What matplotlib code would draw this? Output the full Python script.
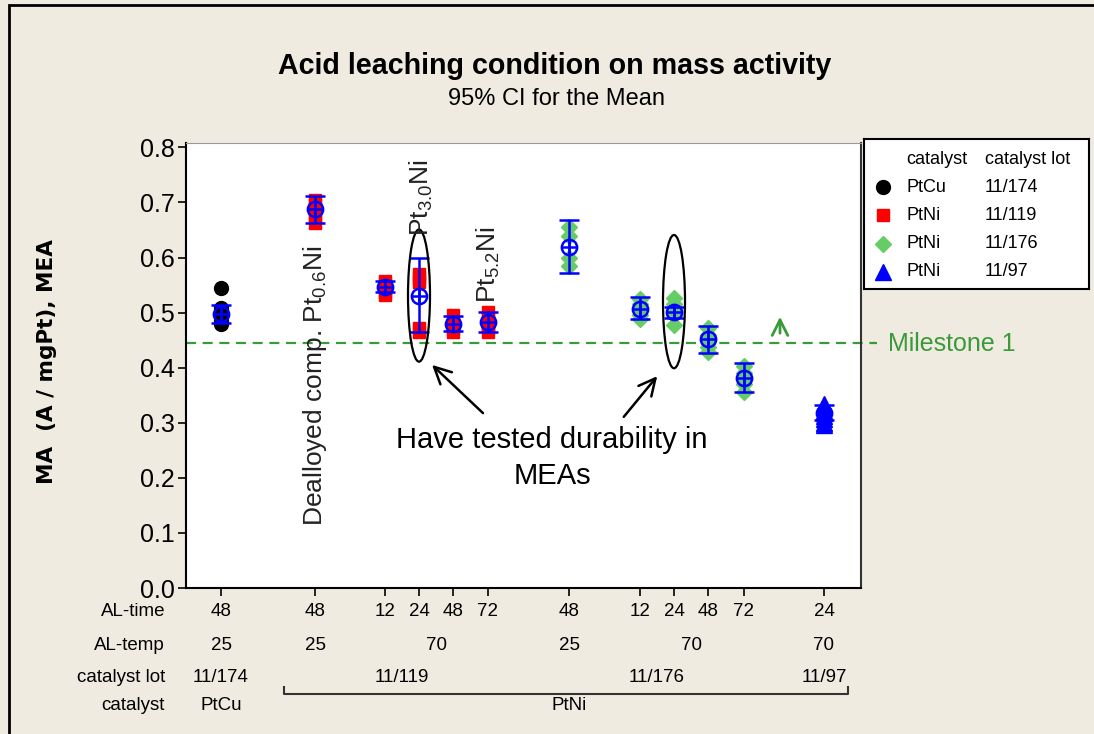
import matplotlib
matplotlib.use('Agg')
import matplotlib.pyplot as plt
from matplotlib.patches import Ellipse, Rectangle
from matplotlib.lines import Line2D

# Daten
al_time = ['48', '48', '12', '24', '48', '72', '48', '12', '24', '48', '72', '24']
group_lot = [0, 1, 1, 1, 1, 1, 2, 2, 2, 2, 2, 3]

temp_labels = ['25', '25', '70', '25', '70', '70']
temp_spans = [(0, 0), (1, 1), (2, 5), (6, 6), (7, 10), (11, 11)]
lot_labels = ['11/174', '11/119', '11/176', '11/97']
lot_spans = [(0, 0), (1, 5), (6, 10), (11, 11)]
cat_labels = ['PtCu', 'PtNi']
cat_spans = [(0, 0), (1, 11)]
legend_catalyst = ['PtCu', 'PtNi', 'PtNi', 'PtNi']

ma_points = [
    [0.545, 0.508, 0.500, 0.492, 0.485, 0.480],
    [0.705, 0.695, 0.685, 0.675, 0.662],
    [0.558, 0.552, 0.545, 0.538, 0.532],
    [0.570, 0.562, 0.555, 0.472, 0.465],
    [0.495, 0.485, 0.478, 0.470, 0.465],
    [0.502, 0.490, 0.480, 0.472, 0.465],
    [0.655, 0.640, 0.600, 0.585],
    [0.525, 0.515, 0.505, 0.495, 0.488],
    [0.527, 0.515, 0.505, 0.495, 0.478],
    [0.472, 0.460, 0.450, 0.438, 0.428],
    [0.403, 0.390, 0.380, 0.370, 0.356],
    [0.335, 0.328, 0.322, 0.318, 0.312, 0.306, 0.300, 0.296],
]
ma_mean = [0.498, 0.688, 0.547, 0.531, 0.480, 0.483, 0.620, 0.507, 0.501, 0.452, 0.382, 0.318]
ci_lo = [0.482, 0.662, 0.537, 0.464, 0.466, 0.464, 0.572, 0.489, 0.490, 0.427, 0.355, 0.305]
ci_hi = [0.513, 0.711, 0.558, 0.599, 0.494, 0.501, 0.669, 0.528, 0.511, 0.475, 0.409, 0.332]
milestone = 0.445

# Layout
W, H = 1094, 734
xpos = [221, 315, 385, 419, 453, 488, 569, 640, 674, 708, 744, 824]
lot_style = [
    dict(marker='o', color='black', ms=10),
    dict(marker='s', color='#ff0000', ms=9),
    dict(marker='D', color='#66cc66', ms=8),
    dict(marker='^', color='#0000ff', ms=12),
]
bg = '#efebe1'
green = '#3a9a3a'
sans = 'Liberation Sans'

plt.rcParams['font.family'] = [sans, 'DejaVu Sans']
plt.rcParams['mathtext.fontset'] = 'custom'
plt.rcParams['mathtext.rm'] = sans
plt.rcParams['mathtext.it'] = sans


def fx(x):
    return x / W


def fy(y):
    return 1 - y / H


fig = plt.figure(figsize=(W / 100, H / 100), dpi=100)
fig.patch.set_facecolor(bg)

# Rahmen
fig.patches.append(Rectangle((fx(9), fy(760)), 1.2, fy(5) - fy(760), transform=fig.transFigure,
                             fill=False, ec='black', lw=2))

ax = fig.add_axes([fx(186), fy(588), fx(861) - fx(186), fy(143) - fy(588)])
ax.set_facecolor('white')
ax.set_xlim(186, 861)
ax.set_ylim(0, 0.808)

# Einzelwerte (11/97 liegt über dem Mittelwertsymbol, wie im Original)
for i, vals in enumerate(ma_points):
    st = lot_style[group_lot[i]]
    z = 6 if group_lot[i] == 3 else 3
    ax.plot([xpos[i]] * len(vals), vals, ls='none', marker=st['marker'], color=st['color'],
            ms=st['ms'], mec=st['color'], zorder=z)

# Mittelwert + 95% CI
err = [[m - l for m, l in zip(ma_mean, ci_lo)], [h - m for m, h in zip(ma_mean, ci_hi)]]
ax.errorbar(xpos, ma_mean, yerr=err, fmt='none', ecolor='blue', elinewidth=1.8,
            capsize=7, capthick=1.8, zorder=4)
ax.plot(xpos, ma_mean, ls='none', marker='o', mfc='none', mec='blue', ms=11, mew=1.8, zorder=5)
ax.plot(xpos, ma_mean, ls='none', marker='+', color='blue', ms=11, mew=1.8, zorder=5)

# Milestone
ax.plot([186, 877], [milestone, milestone], color=green, lw=1.6, ls=(0, (4.5, 3)),
        clip_on=False, zorder=2)
fig.text(fx(888), fy(344), 'Milestone 1', color=green, fontsize=18, va='center')
ax.annotate('', xy=(780, H - 314), xytext=(780, H - 336), xycoords='figure pixels',
            arrowprops=dict(arrowstyle='->', color=green, lw=2, mutation_scale=28))

# Achsen
ax.set_yticks([0.0, 0.1, 0.2, 0.3, 0.4, 0.5, 0.6, 0.7, 0.8])
ax.set_yticklabels(['0.0', '0.1', '0.2', '0.3', '0.4', '0.5', '0.6', '0.7', '0.8'])
ax.tick_params(axis='y', direction='out', length=6, width=1.2, labelsize=18, pad=2)
ax.set_xticks(xpos)
ax.set_xticklabels([])
ax.tick_params(axis='x', direction='out', length=6, width=1.2)
for s in ['left', 'bottom']:
    ax.spines[s].set_linewidth(1.5)
ax.spines['top'].set_color('#999999')
ax.spines['right'].set_color('#333333')
ax.spines['right'].set_linewidth(1.5)

fig.text(fx(47), fy(362), 'MA  (A / mgPt), MEA', rotation=90, ha='center', va='center',
         fontsize=15.5, fontweight='bold', family='DejaVu Sans')

# Titel
fig.text(fx(555), fy(66), 'Acid leaching condition on mass activity', ha='center', va='center',
         fontsize=20.6, fontweight='bold')
fig.text(fx(556), fy(99), '95% CI for the Mean', ha='center', va='center', fontsize=17)

# Tabelle unter der Achse
row_y = [612, 645, 677, 706]
tsize = 13.5
for name, yy in zip(['AL-time', 'AL-temp', 'catalyst lot', 'catalyst'], row_y):
    fig.text(fx(165), fy(yy), name, ha='right', va='center', fontsize=tsize)
for x, t in zip(xpos, al_time):
    fig.text(fx(x), fy(row_y[0]), t, ha='center', va='center', fontsize=tsize)
for rowi, (labels, spans) in enumerate([(temp_labels, temp_spans), (lot_labels, lot_spans),
                                        (cat_labels, cat_spans)]):
    for t, (a, b) in zip(labels, spans):
        fig.text(fx((xpos[a] + xpos[b]) / 2), fy(row_y[rowi + 1]), t, ha='center', va='center',
                 fontsize=tsize)
fig.add_artist(Line2D([fx(284), fx(284), fx(848), fx(848)], [fy(687), fy(694), fy(694), fy(687)],
                      color='#333333', lw=1.5))

# Anmerkungen
tc = '#222222'
fig.text(fx(315), fy(526), r'Dealloyed comp. Pt$_{0.6}$Ni', rotation=90, ha='center', va='bottom',
         fontsize=19, color=tc)
fig.text(fx(421), fy(236), r'Pt$_{3.0}$Ni', rotation=90, ha='center', va='bottom',
         fontsize=19, color=tc)
fig.text(fx(488), fy(303), r'Pt$_{5.2}$Ni', rotation=90, ha='center', va='bottom',
         fontsize=19, color=tc)
ax.add_patch(Ellipse((419, 0.531), 22, 0.24, fill=False, ec='black', lw=1.6, zorder=7))
ax.add_patch(Ellipse((674, 0.52), 22, 0.242, fill=False, ec='black', lw=1.6, zorder=7))
fig.text(fx(552), fy(458), 'Have tested durability in\nMEAs', ha='center', va='center',
         fontsize=21, linespacing=1.35)
ax.annotate('', xy=(430, H - 363), xytext=(485, H - 415), xycoords='figure pixels',
            arrowprops=dict(arrowstyle='->', color='black', lw=1.8, mutation_scale=30))
ax.annotate('', xy=(659, H - 374), xytext=(622, H - 419), xycoords='figure pixels',
            arrowprops=dict(arrowstyle='->', color='black', lw=1.8, mutation_scale=30))

# Legende
lax = fig.add_axes([fx(864), fy(289), fx(1089) - fx(864), fy(139) - fy(289)])
lax.set_xlim(864, 1089)
lax.set_ylim(289, 139)
lax.set_xticks([])
lax.set_yticks([])
for s in lax.spines.values():
    s.set_linewidth(1.5)
lsize = 13
lax.text(906, 160, 'catalyst', va='center', fontsize=lsize)
lax.text(985, 160, 'catalyst lot', va='center', fontsize=lsize)
for k, (cat, lot) in enumerate(zip(legend_catalyst, lot_labels)):
    yy = 187 + k * 28.3
    st = lot_style[k]
    lax.plot([883], [yy], marker=st['marker'], color=st['color'], ms=min(st['ms'], 11), ls='none')
    lax.text(906, yy, cat, va='center', fontsize=lsize)
    lax.text(985, yy, lot, va='center', fontsize=lsize)

fig.savefig('out.png', dpi=100, facecolor=bg)
